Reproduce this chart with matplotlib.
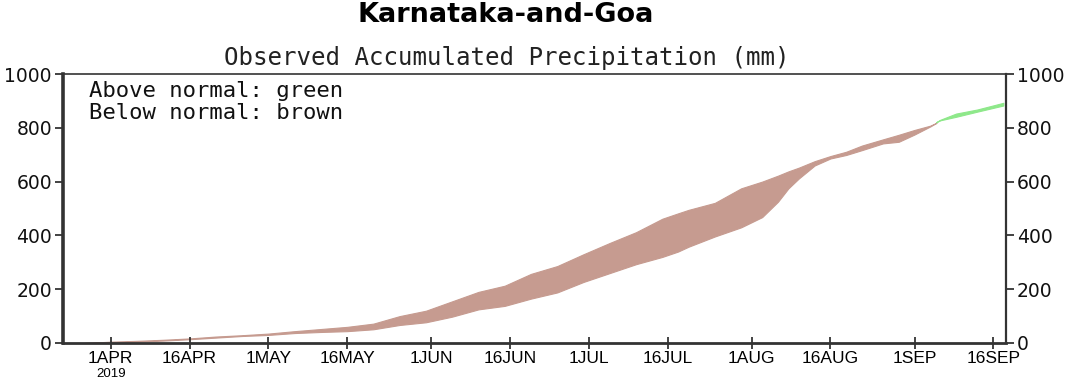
import numpy as np
import matplotlib
matplotlib.use('Agg')
import matplotlib.pyplot as plt

# fechas de muestra (2019) y precipitacion acumulada (mm)
dates = np.array(['2019-03-27', '2019-04-01', '2019-04-06', '2019-04-11', '2019-04-16',
                  '2019-04-21', '2019-04-26', '2019-05-01', '2019-05-06', '2019-05-11',
                  '2019-05-16', '2019-05-21', '2019-05-26', '2019-05-31', '2019-06-05',
                  '2019-06-10', '2019-06-15', '2019-06-20', '2019-06-25', '2019-06-30',
                  '2019-07-05', '2019-07-10', '2019-07-15', '2019-07-18', '2019-07-20',
                  '2019-07-25', '2019-07-30', '2019-08-03', '2019-08-06', '2019-08-08',
                  '2019-08-10', '2019-08-13', '2019-08-16', '2019-08-19', '2019-08-22',
                  '2019-08-26', '2019-08-29', '2019-09-01', '2019-09-04', '2019-09-06',
                  '2019-09-09', '2019-09-13', '2019-09-18'], dtype='datetime64[D]')

normal = [0, 5, 8, 12, 17, 24, 29, 35, 44, 52,
          60, 72, 100, 120, 155, 190, 213, 257, 286, 330,
          372, 412, 462, 482, 495, 521, 575, 600, 622, 638,
          652, 676, 695, 711, 734, 757, 774, 792, 808, 826,
          839, 858, 881]

observed = [0, 2, 5, 9, 14, 20, 26, 30, 37, 41,
            44, 51, 67, 77, 98, 125, 138, 165, 188, 227,
            260, 293, 320, 340, 358, 396, 430, 468, 525, 575,
            612, 660, 686, 699, 717, 742, 748, 775, 805, 828,
            851, 866, 891]

tick_dates = np.array(['2019-04-01', '2019-04-16', '2019-05-01', '2019-05-16',
                       '2019-06-01', '2019-06-16', '2019-07-01', '2019-07-16',
                       '2019-08-01', '2019-08-16', '2019-09-01', '2019-09-16'],
                      dtype='datetime64[D]')
tick_labels = ['1APR', '16APR', '1MAY', '16MAY', '1JUN', '16JUN',
               '1JUL', '16JUL', '1AUG', '16AUG', '1SEP', '16SEP']
y_ticks = [0, 200, 400, 600, 800, 1000]

normal = np.array(normal, dtype=float)
observed = np.array(observed, dtype=float)
x = dates.astype('datetime64[h]').astype('O')

fig = plt.figure(figsize=(10.8, 3.79), dpi=100)
ax = fig.add_axes([63/1080, 1-343/379, (1006-63)/1080, (343-74)/379])

brown = '#c69b90'
green = '#8ee88a'
ax.fill_between(x, observed, normal, where=observed <= normal, interpolate=True,
                color=brown, linewidth=0.8, edgecolor=brown)
ax.fill_between(x, observed, normal, where=observed >= normal, interpolate=True,
                color=green, linewidth=0.8, edgecolor=green)

ax.set_ylim(0, 1000)
ax.set_xlim(np.datetime64('2019-03-22T22', 'h').astype('O'),
            np.datetime64('2019-09-18T10', 'h').astype('O'))
ax.set_yticks(y_ticks)
ax.set_yticklabels([str(v) for v in y_ticks])
ax.set_xticks(tick_dates.astype('datetime64[h]').astype('O'))
ax.set_xticklabels(tick_labels, fontfamily='Liberation Sans', fontsize=12.5)

ax.tick_params(axis='y', which='both', left=True, right=True, labelleft=True,
               labelright=True, direction='out', length=6, width=1.2,
               labelsize=13.5, colors='#222222', pad=2)
ax.tick_params(axis='x', direction='inout', length=8, width=1.2, pad=2,
               colors='#222222')
for lab in ax.get_yticklabels():
    lab.set_color('#111111')
for lab in ax.get_xticklabels():
    lab.set_color('black')

ax.spines['left'].set_linewidth(2.6)
ax.spines['bottom'].set_linewidth(2.0)
ax.spines['top'].set_linewidth(1.2)
ax.spines['right'].set_linewidth(1.6)
for s in ax.spines.values():
    s.set_color('#333333')

ax.text(0.028, 0.935, 'Above normal: green', transform=ax.transAxes,
        fontfamily='DejaVu Sans Mono', fontsize=16, va='center', ha='left',
        color='#111111')
ax.text(0.028, 0.855, 'Below normal: brown', transform=ax.transAxes,
        fontfamily='DejaVu Sans Mono', fontsize=16, va='center', ha='left',
        color='#111111')

fig.text(506/1080, 1-15/379, 'Karnataka-and-Goa', fontsize=19.5,
         fontweight='bold', ha='center', va='center', color='black')
fig.text(507/1080, 1-58/379, 'Observed Accumulated Precipitation (mm)',
         fontfamily='DejaVu Sans Mono', fontsize=17.4, ha='center', va='center',
         color='#222222')
fig.text(111/1080, 1-368/379, '2019', fontfamily='Liberation Sans',
         fontsize=9.5, ha='center', va='top', color='black')

fig.savefig('out.png', dpi=100)
plt.close(fig)
